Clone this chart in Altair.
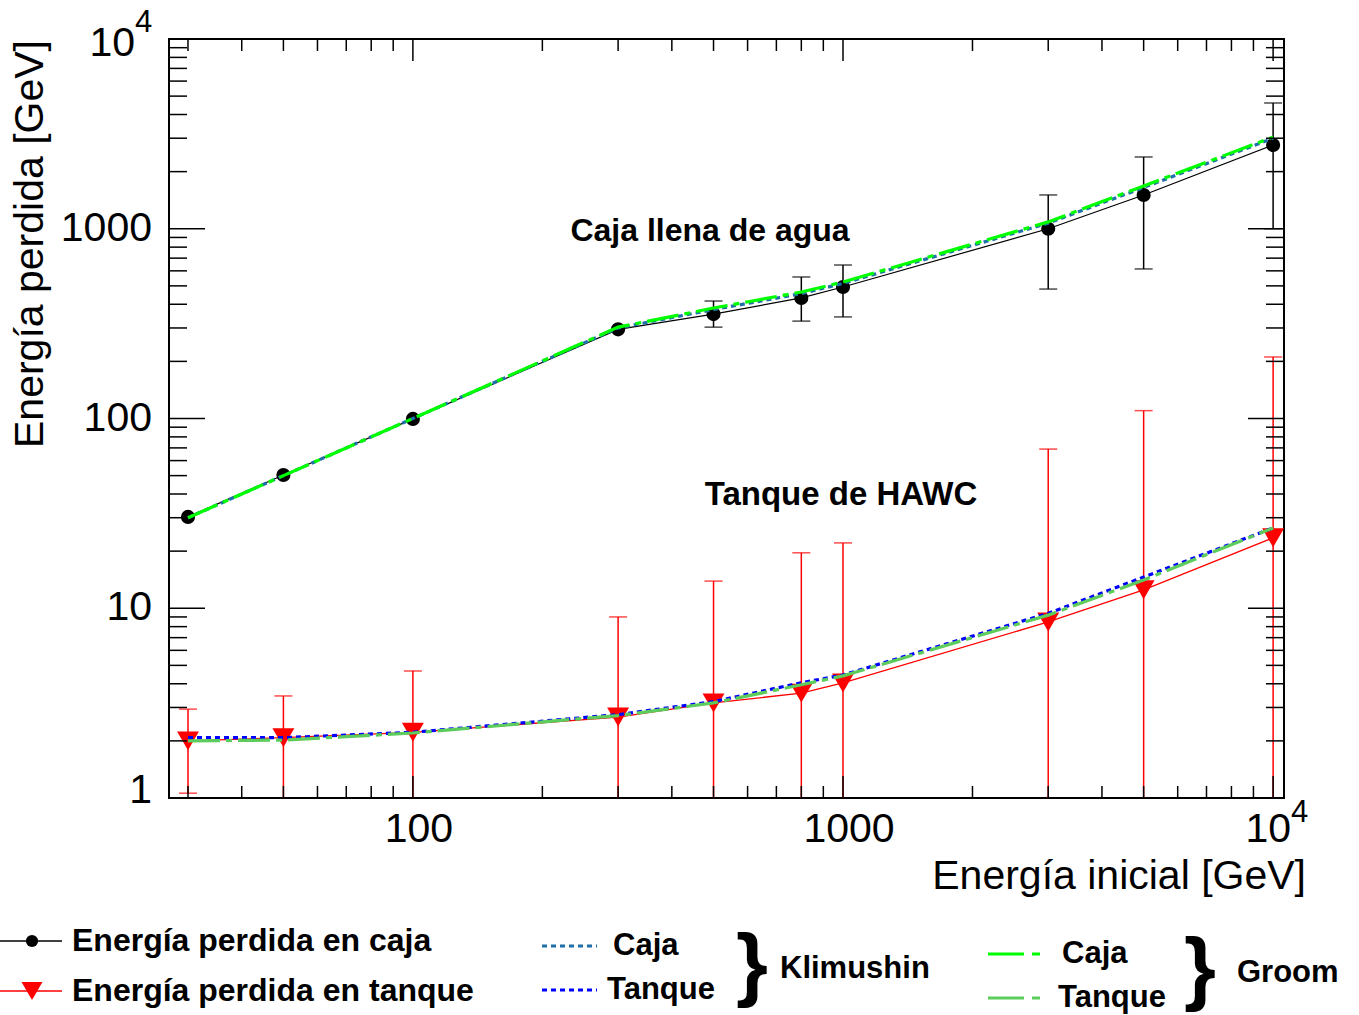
import altair as alt
import pandas as pd

# ---------------- data ----------------
E0 = [30, 50, 100, 300, 500, 800, 1000, 3000, 5000, 10000]

caja = [30.3, 50.4, 99.5, 295, 355, 432, 493, 1000, 1507, 2762]
caja_err_E = [500, 800, 1000, 3000, 5000, 10000]
caja_err_lo = [303, 326, 343, 481, 614, 1000]
caja_err_hi = [416, 557, 644, 1507, 2389, 4600]

tanque = [2.0, 2.08, 2.22, 2.67, 3.17, 3.57, 4.04, 8.47, 12.5, 23.5]
tanque_err_hi = [2.94, 3.45, 4.67, 9.0, 13.9, 19.6, 22.1, 69, 110, 211]

klim_caja = [30, 50, 100, 300, 375, 455, 515, 1070, 1650, 3000]
klim_tanque = [2.08, 2.08, 2.22, 2.75, 3.22, 4.05, 4.45, 9.4, 14.6, 26.5]
groom_caja = [30, 50, 100, 303, 382, 464, 524, 1087, 1680, 3046]
groom_tanque = [2.0, 2.02, 2.2, 2.72, 3.17, 3.95, 4.4, 9.2, 14.1, 26.5]

x_major = [100, 1000, 10000]
x_minor = [30, 40, 50, 60, 70, 80, 90, 200, 300, 400, 500, 600, 700, 800, 900,
           2000, 3000, 4000, 5000, 6000, 7000, 8000, 9000]
y_major = [1, 10, 100, 1000, 10000]
y_minor = [m * d for d in [1, 10, 100, 1000] for m in range(2, 10)]

x_labels = ["100", "1000", "10"]
y_labels = ["1", "10", "100", "1000", "10"]

# ---------------- layout ----------------
W, H = 1115, 759
FONT = "Liberation Sans"

xscale = alt.Scale(type="log", domain=[27.1, 10600], nice=False)
yscale = alt.Scale(type="log", domain=[1, 10000], nice=False)


def X(f="E"):
    return alt.X(f"{f}:Q", scale=xscale, axis=None)


def Y(f="v"):
    return alt.Y(f"{f}:Q", scale=yscale, axis=None)


def series(vals):
    return pd.DataFrame({"E": E0, "v": vals})


one = pd.DataFrame({"a": [0]})

# tank error bars (symmetric, clipped at axis minimum)
t_lo = [max(2 * v - h, 1.0) for v, h in zip(tanque, tanque_err_hi)]
t_err = pd.DataFrame({"E": E0, "v": t_lo, "v2": tanque_err_hi})
t_lo_caps = t_err[[2 * v - h > 1.0 for v, h in zip(tanque, tanque_err_hi)]]
c_err = pd.DataFrame({"E": caja_err_E, "v": caja_err_lo, "v2": caja_err_hi})

layers = []

# black series
layers.append(alt.Chart(c_err).mark_rule(color="black", strokeWidth=1.5, clip=True).encode(
    x=X(), y=Y(), y2="v2:Q"))
layers.append(alt.Chart(c_err).mark_tick(color="black", orient="horizontal", size=18, thickness=1.5).encode(
    x=X(), y=Y()))
layers.append(alt.Chart(c_err).mark_tick(color="black", orient="horizontal", size=18, thickness=1.5).encode(
    x=X(), y=Y("v2")))
layers.append(alt.Chart(series(caja)).mark_line(color="black", strokeWidth=1.2, clip=True).encode(
    x=X(), y=Y()))
layers.append(alt.Chart(series(caja)).mark_point(shape="circle", filled=True, color="black", size=200, opacity=1).encode(
    x=X(), y=Y()))

# red series
layers.append(alt.Chart(t_err).mark_rule(color="#ff0000", strokeWidth=1.5, clip=True).encode(
    x=X(), y=Y(), y2="v2:Q"))
layers.append(alt.Chart(t_err).mark_tick(color="#ff0000", orient="horizontal", size=18, thickness=1.5).encode(
    x=X(), y=Y("v2")))
layers.append(alt.Chart(t_lo_caps).mark_tick(color="#ff0000", orient="horizontal", size=18, thickness=1.5).encode(
    x=X(), y=Y()))
layers.append(alt.Chart(series(tanque)).mark_line(color="#ff0000", strokeWidth=1.3, clip=True).encode(
    x=X(), y=Y()))
layers.append(alt.Chart(series(tanque)).mark_point(shape="triangle-down", filled=True, color="#ff0000", size=480, opacity=1).encode(
    x=X(), y=Y()))

# model curves
KL_C, KL_T, GR_C, GR_T = "#1f6fa8", "#0000ff", "#00ff00", "#5ccc5c"
KL_DASH = [5, 4]
GR_DASH = [32, 6, 6, 6]
for vals, col, dash in [(klim_caja, KL_C, KL_DASH), (klim_tanque, KL_T, KL_DASH),
                        (groom_caja, GR_C, GR_DASH), (groom_tanque, GR_T, GR_DASH)]:
    layers.append(alt.Chart(series(vals)).mark_line(color=col, strokeWidth=3.2, strokeDash=dash, clip=True).encode(
        x=X(), y=Y()))

# ---------------- axis ticks (ROOT style, inside, mirrored) ----------------
TK = dict(color="black", strokeWidth=1.5)
for vals, ln in [(x_major, 22), (x_minor, 12)]:
    d = pd.DataFrame({"E": vals})
    layers.append(alt.Chart(d).mark_rule(**TK).encode(x=X(), y=alt.value(H), y2=alt.value(H - ln)))
    layers.append(alt.Chart(d).mark_rule(**TK).encode(x=X(), y=alt.value(0), y2=alt.value(ln)))
for vals, ln in [(y_major, 36), (y_minor, 18)]:
    d = pd.DataFrame({"v": vals})
    layers.append(alt.Chart(d).mark_rule(**TK).encode(y=Y(), x=alt.value(0), x2=alt.value(ln)))
    layers.append(alt.Chart(d).mark_rule(**TK).encode(y=Y(), x=alt.value(W), x2=alt.value(W - ln)))

# ---------------- tick labels ----------------
LBL = dict(font=FONT, fontSize=41, color="black")
xl = pd.DataFrame({"E": x_major, "t": x_labels})
layers.append(alt.Chart(xl[:2]).mark_text(align="center", baseline="middle", dx=6, **LBL).encode(
    x=X(), y=alt.value(791), text="t:N"))
layers.append(alt.Chart(xl[2:]).mark_text(align="right", baseline="middle", dx=18, **LBL).encode(
    x=X(), y=alt.value(791), text="t:N"))
layers.append(alt.Chart(xl[2:]).mark_text(align="left", baseline="middle", dx=18, font=FONT, fontSize=31).encode(
    x=X(), y=alt.value(774), text=alt.value("4")))

yl = pd.DataFrame({"v": y_major, "t": y_labels})
layers.append(alt.Chart(yl[1:4]).mark_text(align="right", baseline="middle", **LBL).encode(
    y=Y(), x=alt.value(-17), text="t:N"))
layers.append(alt.Chart(yl[:1]).mark_text(align="right", baseline="middle", dy=-7, **LBL).encode(
    y=Y(), x=alt.value(-17), text="t:N"))
layers.append(alt.Chart(yl[4:]).mark_text(align="right", baseline="middle", dy=5, **LBL).encode(
    y=Y(), x=alt.value(-34), text="t:N"))
layers.append(alt.Chart(yl[4:]).mark_text(align="left", baseline="middle", dy=-16, font=FONT, fontSize=31).encode(
    y=Y(), x=alt.value(-34), text=alt.value("4")))

# ---------------- axis titles ----------------
layers.append(alt.Chart(one).mark_text(align="right", baseline="middle", font=FONT, fontSize=41).encode(
    x=alt.value(1137), y=alt.value(838), text=alt.value("Energía inicial [GeV]")))
layers.append(alt.Chart(one).mark_text(align="right", baseline="middle", angle=270, font=FONT, fontSize=41).encode(
    x=alt.value(-138), y=alt.value(1), text=alt.value("Energía perdida [GeV]")))

# ---------------- annotations ----------------
ANN = dict(font=FONT, fontSize=32, fontWeight="bold", color="black")
layers.append(alt.Chart(one).mark_text(align="center", baseline="middle", **ANN).encode(
    x=alt.value(541), y=alt.value(192), text=alt.value("Caja llena de agua")))
layers.append(alt.Chart(one).mark_text(align="center", baseline="middle", fontSize=33, font=FONT,
                                       fontWeight="bold", color="black").encode(
    x=alt.value(672), y=alt.value(456), text=alt.value("Tanque de HAWC")))

# ---------------- legend ----------------
LEG = dict(font=FONT, fontSize=32, fontWeight="bold", color="black", align="left", baseline="middle")


def leg_line(x1, x2, y, **kw):
    return alt.Chart(one).mark_rule(**kw).encode(x=alt.value(x1), x2=alt.value(x2), y=alt.value(y))


def leg_text(x, y, t, **kw):
    opts = dict(LEG)
    opts.update(kw)
    return alt.Chart(one).mark_text(**opts).encode(x=alt.value(x), y=alt.value(y), text=alt.value(t))


layers.append(leg_line(-169, -107, 902, color="black", strokeWidth=1.5))
layers.append(alt.Chart(one).mark_point(shape="circle", filled=True, color="black", size=150, opacity=1).encode(
    x=alt.value(-137), y=alt.value(902)))
layers.append(leg_text(-97, 902, "Energía perdida en caja"))

layers.append(leg_line(-169, -107, 952, color="#ff0000", strokeWidth=1.5))
layers.append(alt.Chart(one).mark_point(shape="triangle-down", filled=True, color="#ff0000", size=440, opacity=1).encode(
    x=alt.value(-137), y=alt.value(952)))
layers.append(leg_text(-97, 952, "Energía perdida en tanque"))

layers.append(leg_line(373, 428, 907, color=KL_C, strokeWidth=3, strokeDash=KL_DASH))
layers.append(leg_text(444, 907, "Caja", fontSize=31))
layers.append(leg_line(373, 428, 951, color=KL_T, strokeWidth=3, strokeDash=KL_DASH))
layers.append(leg_text(438, 951, "Tanque", fontSize=31))
layers.append(leg_text(583, 927, "}", fontSize=82, align="center"))
layers.append(leg_text(611, 930, "Klimushin", fontSize=31))

layers.append(leg_line(819, 876, 915, color=GR_C, strokeWidth=3, strokeDash=[36, 8, 8, 8]))
layers.append(leg_text(893, 915, "Caja", fontSize=31))
layers.append(leg_line(819, 876, 959, color=GR_T, strokeWidth=3, strokeDash=[36, 8, 8, 8]))
layers.append(leg_text(889, 959, "Tanque", fontSize=31))
layers.append(leg_text(1031, 931, "}", fontSize=82, align="center"))
layers.append(leg_text(1068, 934, "Groom", fontSize=31))

chart = alt.layer(*layers).properties(
    width=W, height=H,
    padding={"left": 169, "top": 39, "right": 75, "bottom": 217},
    autosize=alt.AutoSizeParams(type="none"),
    background="white",
).configure_view(stroke="black", strokeWidth=2)

chart.save("out.html", embed_options={"renderer": "svg", "actions": False})
